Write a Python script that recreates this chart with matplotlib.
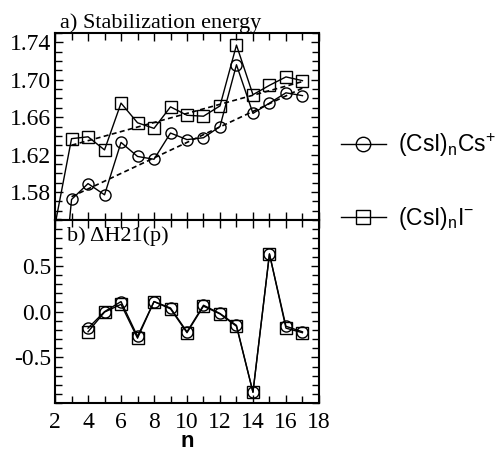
import numpy as np
import matplotlib.pyplot as plt
from matplotlib.ticker import MultipleLocator, FixedLocator
from matplotlib.lines import Line2D

# cluster size
n_top = [2, 3, 4, 5, 6, 7, 8, 9, 10, 11, 12, 13, 14, 15, 16, 17]
n_bot = [4, 5, 6, 7, 8, 9, 10, 11, 12, 13, 14, 15, 16, 17]

# a) stabilization energy
cs_energy = [1.39, 1.572, 1.589, 1.577, 1.633, 1.618, 1.615, 1.643, 1.636,
             1.638, 1.650, 1.716, 1.664, 1.675, 1.686, 1.683]
i_energy = [1.545, 1.637, 1.639, 1.625, 1.675, 1.654, 1.648, 1.671, 1.662,
            1.661, 1.672, 1.737, 1.684, 1.694, 1.703, 1.699]

# linear trends (end points)
trend_n = [3, 17]
cs_trend = [1.575, 1.691]
i_trend = [1.630, 1.698]

# b) second difference
cs_dh = [-0.18, 0.0, 0.11, -0.27, 0.11, 0.04, -0.22, 0.07, -0.02, -0.15,
         -0.88, 0.63, -0.16, -0.22]
i_dh = [-0.22, -0.005, 0.08, -0.29, 0.11, 0.03, -0.23, 0.06, -0.025, -0.16,
        -0.88, 0.63, -0.18, -0.23]

top_ticks = [1.58, 1.62, 1.66, 1.70, 1.74]
bot_ticks = [-0.5, 0.0, 0.5]

serif = 'Liberation Serif'
sans = 'Liberation Sans'

fig = plt.figure(figsize=(4.96, 4.51), dpi=100)
ax1 = fig.add_axes([0.111, 0.512, 0.532, 0.415])
ax2 = fig.add_axes([0.111, 0.106, 0.532, 0.406], sharex=ax1)

mk = dict(color='black', lw=1.0, markerfacecolor='none', markeredgecolor='black',
          markeredgewidth=1.0, markersize=8)

ax1.plot(n_top, cs_energy, marker='o', **mk)
ax1.plot(n_top, i_energy, marker='s', **mk)
ax1.plot(trend_n, cs_trend, ls=(0, (3, 2)), color='black', lw=1.2)
ax1.plot(trend_n, i_trend, ls=(0, (3, 2)), color='black', lw=1.2)

ax2.plot(n_bot, cs_dh, marker='o', **mk)
ax2.plot(n_bot, i_dh, marker='s', **mk)

ax1.set_xlim(2, 18)
ax1.set_ylim(1.55, 1.75)
ax2.set_ylim(-1.0, 1.0)

ax1.yaxis.set_major_locator(FixedLocator(top_ticks))
ax1.yaxis.set_minor_locator(MultipleLocator(0.01))
ax2.yaxis.set_major_locator(FixedLocator(bot_ticks))
ax2.yaxis.set_minor_locator(MultipleLocator(0.1))
ax2.xaxis.set_major_locator(MultipleLocator(2))
ax2.xaxis.set_minor_locator(MultipleLocator(1))

ax1.yaxis.set_major_formatter(plt.FuncFormatter(lambda v, p: f'{v:.2f}'))
ax2.yaxis.set_major_formatter(plt.FuncFormatter(lambda v, p: f'{v:.1f}'))

for ax in (ax1, ax2):
    for s in ax.spines.values():
        s.set_linewidth(1.5)
    ax.tick_params(which='both', direction='in', top=True, right=True,
                   width=1.0, labelsize=17)
    ax.tick_params(which='major', length=6)
    ax.tick_params(which='minor', length=5)
    ax.tick_params(axis='y', pad=3)
    ax.tick_params(axis='x', pad=6)

ax1.tick_params(labelbottom=False)
fig.canvas.draw()
for lbl in ax1.get_yticklabels() + ax2.get_yticklabels() + ax2.get_xticklabels():
    lbl.set_fontfamily(serif)

ax1.set_title('a) Stabilization energy', fontsize=16, family=serif,
              loc='center', pad=1, x=0.40)
ax2.text(0.045, 0.965, 'b) ΔH21(p)', transform=ax2.transAxes, fontsize=16,
         family=serif, va='top', ha='left')
ax2.set_xlabel('n', fontsize=16, family=sans, fontweight='bold', labelpad=-1)

handles = [
    Line2D([], [], marker='o', **mk),
    Line2D([], [], marker='s', **mk),
]
labels = [r'(CsI)$_\mathregular{n}$Cs$^\mathregular{+}$',
          r'(CsI)$_\mathregular{n}$I$^\mathregular{-}$']
fig.legend(handles, labels, loc='center left', bbox_to_anchor=(0.645, 0.598),
           frameon=False, prop={'family': sans, 'size': 16.5},
           handlelength=2.0, labelspacing=2.0, handletextpad=0.5,
           markerscale=1.3)

fig.savefig('out.png', dpi=100)
